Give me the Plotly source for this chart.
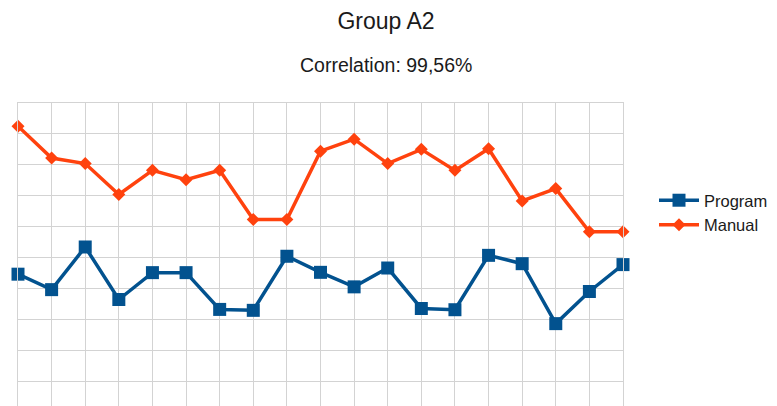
import plotly.graph_objects as go

categories = ["P1", "P2", "P3", "P4", "P5", "P6", "P7", "P8", "P9", "P10",
              "P11", "P12", "P13", "P14", "P15", "P16", "P17", "P18", "P19"]
program = [4.46, 3.96, 5.34, 3.64, 4.51, 4.51, 3.32, 3.29, 5.04, 4.52,
           4.05, 4.66, 3.35, 3.31, 5.07, 4.80, 2.86, 3.90, 4.77]
manual = [9.25, 8.22, 8.04, 7.04, 7.82, 7.52, 7.82, 6.23, 6.23, 8.44,
          8.83, 8.04, 8.50, 7.82, 8.52, 6.83, 7.23, 5.83, 5.83]

BLUE = "#02528f"
ORANGE = "#ff420e"
GRID = "#d3d3d3"
FONT = "Liberation Sans, Arial, sans-serif"

fig = go.Figure()
fig.add_trace(go.Scatter(
    x=categories, y=program, name="Program", mode="lines+markers",
    line=dict(color=BLUE, width=3.5),
    marker=dict(symbol="square", size=13, color=BLUE),
    cliponaxis=False,
))
fig.add_trace(go.Scatter(
    x=categories, y=manual, name="Manual", mode="lines+markers",
    line=dict(color=ORANGE, width=3.5),
    marker=dict(symbol="diamond", size=10, color=ORANGE),
    cliponaxis=False,
))

# page body has an 8px margin; figure is sized/positioned to compensate
W, H = 769, 398
ml, mr, mt, mb = 10, 154, 95, 0
ph = H - mt - mb
pw = W - ml - mr
fig.update_layout(
    width=W, height=H,
    margin=dict(l=ml, r=mr, t=mt, b=mb, pad=0, autoexpand=False),
    paper_bgcolor="white", plot_bgcolor="white",
    font=dict(family=FONT, color="#1a1a1a"),
    title=dict(text="Group A2", x=378 / W, xanchor="center",
               y=1 - 13 / H, yanchor="middle", yref="container",
               font=dict(size=23, family=FONT, color="#1a1a1a")),
    xaxis=dict(type="category", range=[0, 18], showgrid=True, side="top",
               gridcolor=GRID, gridwidth=1, showticklabels=False,
               ticks="", zeroline=False, showline=True, linecolor=GRID,
               linewidth=1),
    yaxis=dict(range=[10 - ph / 30.9, 10], dtick=1, tick0=0, showgrid=True,
               gridcolor=GRID, gridwidth=1, showticklabels=False,
               ticks="", zeroline=False, showline=True, mirror=True,
               linecolor=GRID, linewidth=1),
    legend=dict(x=646 / W, xref="container", xanchor="left",
                y=(H - 175) / H, yref="container", yanchor="top",
                font=dict(size=16.5, family=FONT, color="#1a1a1a"),
                bgcolor="rgba(0,0,0,0)", itemwidth=40),
    showlegend=True,
    annotations=[dict(text="Correlation: 99,56%", xref="paper", yref="paper",
                      x=(378 - ml) / pw, y=(H - 57.5) / ph,
                      xanchor="center", yanchor="middle", showarrow=False,
                      font=dict(size=19.5, family=FONT, color="#1a1a1a"))],
)

fig.write_html("out.html")
